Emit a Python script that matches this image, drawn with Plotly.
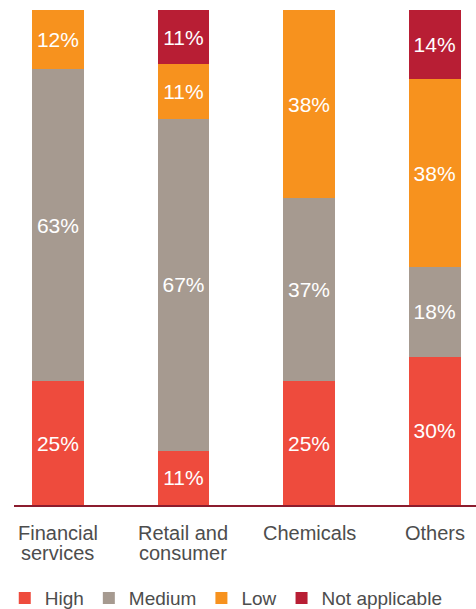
import plotly.graph_objects as go

categories = ["Financial\nservices", "Retail and\nconsumer", "Chemicals", "Others"]
high = [25, 11, 25, 30]
medium = [63, 67, 37, 18]
low = [12, 11, 38, 38]
not_applicable = [None, 11, None, 14]

series = [
    ("High", high, "#EE4B3D"),
    ("Medium", medium, "#A69A90"),
    ("Low", low, "#F7921E"),
    ("Not applicable", not_applicable, "#B81E34"),
]

FONT = "Liberation Sans, Arial, Helvetica, sans-serif"
TEXT_GREY = "#4D4D4D"

fig = go.Figure()
x_pos = list(range(len(categories)))
for name, vals, color in series:
    fig.add_trace(go.Bar(
        name=name,
        x=x_pos,
        y=vals,
        marker=dict(color=color, line=dict(width=0)),
        width=0.414,
        text=[f"{v}%" if v is not None else "" for v in vals],
        textposition="inside",
        insidetextanchor="middle",
        textangle=0,
        textfont=dict(color="white", size=21, family=FONT),
        hoverinfo="skip",
    ))

# Category labels, one annotation per line for tight line spacing
for i, cat in enumerate(categories):
    for j, line in enumerate(cat.split("\n")):
        fig.add_annotation(
            x=i, xref="x",
            y=0, yref="paper",
            text=line,
            showarrow=False,
            xanchor="center",
            yanchor="middle",
            yshift=-28 - 20 * j,
            font=dict(size=20, color=TEXT_GREY, family=FONT),
        )

fig.update_layout(
    barmode="stack",
    width=476,
    height=609,
    margin=dict(l=14, r=0, t=10, b=104),
    paper_bgcolor="white",
    plot_bgcolor="white",
    font=dict(family=FONT, color=TEXT_GREY),
    uniformtext=dict(minsize=21, mode="show"),
    xaxis=dict(
        range=[-0.35, 3.33],
        tickmode="array",
        tickvals=x_pos,
        showticklabels=False,
        showgrid=False,
        zeroline=False,
        showline=True,
        linecolor="#8C1C2E",
        linewidth=2,
        ticks="",
        fixedrange=True,
    ),
    yaxis=dict(
        range=[0, 100],
        visible=False,
        fixedrange=True,
    ),
    showlegend=True,
    legend=dict(
        orientation="h",
        traceorder="normal",
        xref="container",
        x=0.01,
        xanchor="left",
        yref="container",
        y=0.018,
        yanchor="middle",
        font=dict(size=19, color=TEXT_GREY, family=FONT),
        itemclick=False,
        itemdoubleclick=False,
    ),
)

fig.write_html("out.html")
